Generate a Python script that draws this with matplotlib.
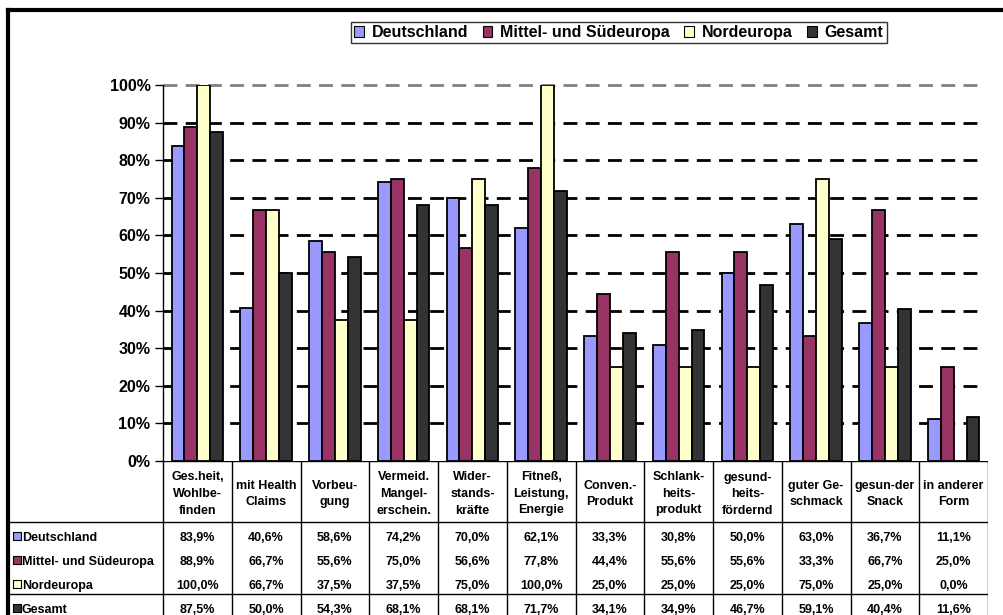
import numpy as np
import matplotlib.pyplot as plt
from matplotlib.lines import Line2D
from matplotlib.patches import Patch

plt.rcParams['font.family'] = ['Liberation Sans', 'DejaVu Sans']
plt.rcParams['font.weight'] = 'bold'

categories = ["Ges.heit,\nWohlbe-\nfinden", "mit Health\nClaims", "Vorbeu-\ngung",
              "Vermeid.\nMangel-\nerschein.", "Wider-\nstands-\nkräfte",
              "Fitneß,\nLeistung,\nEnergie", "Conven.-\nProdukt", "Schlank-\nheits-\nprodukt",
              "gesund-\nheits-\nfördernd", "guter Ge-\nschmack", "gesun-der\nSnack",
              "in anderer\nForm"]
series = ["Deutschland", "Mittel- und Südeuropa", "Nordeuropa", "Gesamt"]
deutschland = [83.9, 40.6, 58.6, 74.2, 70.0, 62.1, 33.3, 30.8, 50.0, 63.0, 36.7, 11.1]
mittel_sued = [88.9, 66.7, 55.6, 75.0, 56.6, 77.8, 44.4, 55.6, 55.6, 33.3, 66.7, 25.0]
nordeuropa = [100.0, 66.7, 37.5, 37.5, 75.0, 100.0, 25.0, 25.0, 25.0, 75.0, 25.0, 0.0]
gesamt = [87.5, 50.0, 54.3, 68.1, 68.1, 71.7, 34.1, 34.9, 46.7, 59.1, 40.4, 11.6]
colors = ["#9999FF", "#993366", "#FFFFCC", "#333333"]
values = [deutschland, mittel_sued, nordeuropa, gesamt]

W, H = 1004, 615
def rect(x0, y0, x1, y1):
    return [x0 / W, 1 - y1 / H, (x1 - x0) / W, (y1 - y0) / H]

fig = plt.figure(figsize=(W / 100, H / 100), dpi=100)

# --- bar chart
ax = fig.add_axes(rect(163, 85, 988, 461))
x = np.arange(len(categories))
bw = 0.1875
for i, (vals, c) in enumerate(zip(values, colors)):
    ax.bar(x + (i - 1.5) * bw, vals, width=bw, color=c, edgecolor='black',
           linewidth=1.3, zorder=3)

ax.set_xlim(-0.5, len(categories) - 0.5)
ax.set_ylim(0, 100)
yt = np.arange(0, 101, 10)
ax.set_yticks(yt)
ax.set_yticklabels([f"{v}%" for v in yt], fontsize=11.5, fontweight='bold')
ax.tick_params(axis='y', length=6, width=1, pad=3)
ax.set_xticks([])
for s in ['top', 'right', 'bottom']:
    ax.spines[s].set_visible(False)
ax.spines['left'].set_linewidth(1)
for v in yt[1:]:
    col = '#808080' if v == 100 else 'black'
    ax.axhline(v, xmin=0.0, xmax=0.994, color=col, linestyle=(0, (5, 3)),
               linewidth=2, zorder=1, clip_on=False)

# --- data table (y in pixels below the 0% line)
left_px = 8
ppu = (988 - 163) / len(categories)
xl = -0.5 - (163 - left_px) / ppu
tax = fig.add_axes(rect(left_px, 461, 988, 615))
tax.set_xlim(xl, len(categories) - 0.5)
tax.set_ylim(154, 0)
tax.axis('off')
header_h = 61
row_h = 24
tax.plot([-0.5, len(categories) - 0.5], [0, 0], color='black', lw=1)
tax.plot([xl, len(categories) - 0.5], [header_h, header_h], color='black', lw=1)
tax.plot([xl, len(categories) - 0.5], [header_h + 3 * row_h - 0.5] * 2, color='black', lw=1)
for k in range(len(categories) + 1):
    tax.plot([k - 0.5, k - 0.5], [0, 154], color='black', lw=1)

for j, cat in enumerate(categories):
    tax.text(j, 33, cat, ha='center', va='center', fontsize=9,
             fontweight='bold', linespacing=1.5)

for i, (name, vals, c) in enumerate(zip(series, values, colors)):
    yc = header_h + 16 + i * row_h
    tax.scatter([xl + 9 / ppu], [yc - 2], marker='s', s=34, color=c,
                edgecolor='black', linewidth=0.8, clip_on=False)
    tax.text(xl + 14 / ppu, yc, name, ha='left', va='center', fontsize=9,
             fontweight='bold')
    for j, v in enumerate(vals):
        tax.text(j, yc, f"{v:.1f}%".replace('.', ','), ha='center', va='center',
                 fontsize=9, fontweight='bold')

# --- outer frame
fig.add_artist(Line2D([8 / W, 8 / W], [0, 1 - 10 / H], color='black', lw=3,
                      transform=fig.transFigure))
fig.add_artist(Line2D([8 / W, 1], [1 - 10 / H, 1 - 10 / H], color='black', lw=3,
                      transform=fig.transFigure))

# --- legend
handles = [Patch(facecolor=c, edgecolor='black', linewidth=0.8) for c in colors]
leg = fig.legend(handles, series, loc='upper left', bbox_to_anchor=(351 / W, 1 - 22 / H),
                 ncol=4, frameon=True, fancybox=False, edgecolor='black',
                 prop={'weight': 'bold', 'size': 11.5}, handlelength=0.6,
                 handleheight=0.6, handletextpad=0.5, columnspacing=0.9,
                 borderpad=0.2, borderaxespad=0)
leg.get_frame().set_linewidth(1)

fig.savefig('out.png', dpi=100)
